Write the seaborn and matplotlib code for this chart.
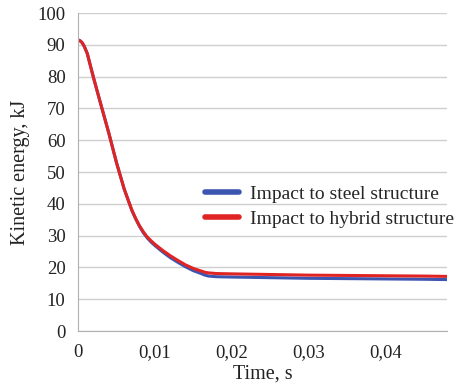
import numpy as np
import pandas as pd
import matplotlib
matplotlib.use('Agg')
import matplotlib.pyplot as plt
import seaborn as sns

time_s = [0, 0.0002, 0.0005, 0.0008, 0.0012, 0.002, 0.003, 0.004, 0.005, 0.006,
          0.007, 0.0075, 0.008, 0.0085, 0.009, 0.0095, 0.010, 0.011, 0.012, 0.013,
          0.014, 0.015, 0.016, 0.0165, 0.017, 0.018, 0.020, 0.025, 0.030, 0.035,
          0.040, 0.045, 0.048]
steel_kj = [91.5, 91.4, 90.8, 89.6, 87.3, 79.8, 71.0, 62.3, 53.0, 44.7,
            38.0, 35.3, 32.9, 30.9, 29.3, 28.0, 26.9, 24.9, 23.1, 21.6,
            20.2, 19.0, 18.1, 17.6, 17.3, 17.1, 17.0, 16.8, 16.6, 16.5,
            16.4, 16.3, 16.2]
hybrid_kj = [91.5, 91.4, 90.8, 89.6, 87.3, 79.8, 71.0, 62.3, 53.0, 44.7,
             38.0, 35.4, 33.1, 31.2, 29.6, 28.4, 27.3, 25.4, 23.7, 22.2,
             20.8, 19.7, 18.9, 18.5, 18.3, 18.1, 18.0, 17.8, 17.6, 17.5,
             17.4, 17.3, 17.2]
series = ['Impact to steel structure', 'Impact to hybrid structure']
colors = ['#3C55B0', '#E02424']
x_ticks = [0, 0.01, 0.02, 0.03, 0.04]
x_tick_labels = ['0', '0,01', '0,02', '0,03', '0,04']
y_ticks = [0, 10, 20, 30, 40, 50, 60, 70, 80, 90, 100]

df = pd.concat([
    pd.DataFrame({'time': time_s, 'energy': steel_kj, 'case': series[0]}),
    pd.DataFrame({'time': time_s, 'energy': hybrid_kj, 'case': series[1]}),
])

sns.set_style('white')
plt.rcParams['font.family'] = ['Liberation Serif', 'DejaVu Serif']

fig = plt.figure(figsize=(4.59, 3.85), dpi=100)
ax = fig.add_axes([0.170, 0.140, 0.804, 0.826])

sns.lineplot(data=df, x='time', y='energy', hue='case', hue_order=series,
             palette=colors, linewidth=2.2, ax=ax)

ax.set_xlim(0, 0.048)
ax.set_ylim(0, 100)
ax.set_xticks(x_ticks)
ax.set_xticklabels(x_tick_labels)
ax.set_yticks(y_ticks)
ax.tick_params(axis='both', labelsize=13.5, length=4, color='#b0b0b0',
               labelcolor='#222222', pad=5)
ax.yaxis.grid(True, color='#cfcfcf', linewidth=1)
ax.xaxis.grid(False)
for side in ['top', 'right']:
    ax.spines[side].set_visible(False)
for side in ['left', 'bottom']:
    ax.spines[side].set_color('#b0b0b0')

ax.set_xlabel('Time, s', fontsize=14.5, labelpad=3, color='#222222')
ax.set_ylabel('Kinetic energy, kJ', fontsize=14.5, labelpad=5, color='#222222')

ax.legend(loc='upper left', bbox_to_anchor=(0.425, 0.545),
          bbox_transform=fig.transFigure, frameon=False, fontsize=14.0,
          handlelength=1.75, handletextpad=0.6, labelspacing=0.4, borderpad=0)
for line in ax.get_legend().get_lines():
    line.set_linewidth(4)

fig.savefig('out.png', dpi=100)
